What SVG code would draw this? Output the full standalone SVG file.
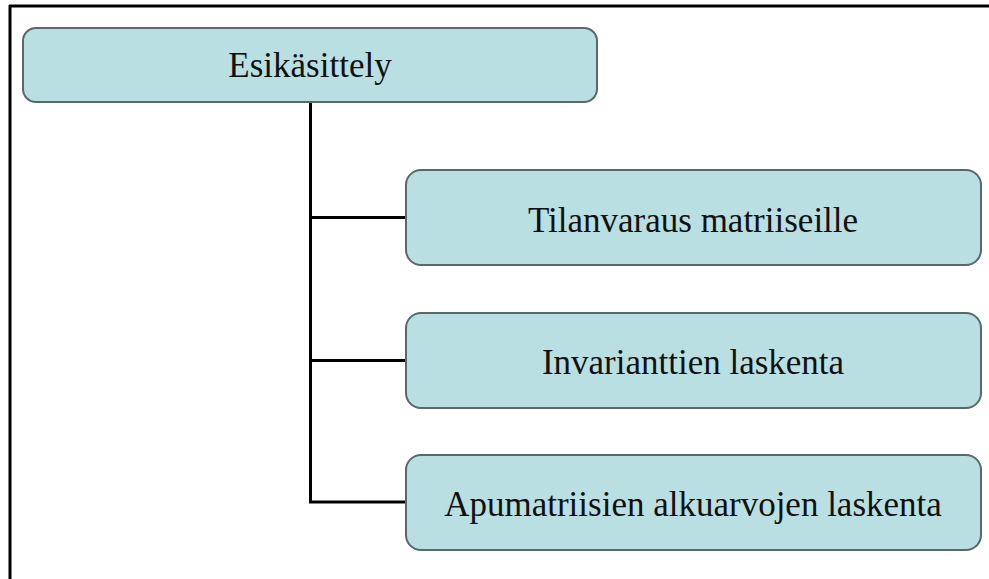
<svg xmlns="http://www.w3.org/2000/svg" width="989" height="579" viewBox="0 0 989 579">
<style>
.box{fill:#b9dfe3;stroke:#5b6868;stroke-width:2}
.lbl{font-family:"Liberation Serif","Times New Roman",serif;font-size:35px;fill:#111;text-anchor:middle}
.conn{fill:none;stroke:#000;stroke-width:3}
</style>
<rect width="989" height="579" fill="#fff"/>
<g id="frame">
<line x1="9" y1="6" x2="989" y2="6" stroke="#000" stroke-width="3"/>
<line x1="10" y1="5" x2="10" y2="579" stroke="#000" stroke-width="3"/>
</g>
<g id="connectors">
<polyline class="conn" points="310.5,102 310.5,502 406,502"/>
<line class="conn" x1="310.5" y1="217.5" x2="406" y2="217.5" stroke-width="2.5"/>
<line class="conn" x1="310.5" y1="360.5" x2="406" y2="360.5" stroke-width="2.5"/>
</g>
<g id="n-root">
<rect class="box" x="23" y="28" width="574" height="74" rx="13"/>
<text class="lbl" x="310" y="77">Esikäsittely</text>
</g>
<g id="n-1">
<rect class="box" x="406" y="170" width="575" height="95" rx="15"/>
<text class="lbl" x="693" y="232">Tilanvaraus matriiseille</text>
</g>
<g id="n-2">
<rect class="box" x="406" y="313" width="575" height="95" rx="15"/>
<text class="lbl" x="693" y="374">Invarianttien laskenta</text>
</g>
<g id="n-3">
<rect class="box" x="406" y="455" width="575" height="95" rx="15"/>
<text class="lbl" x="693" y="516">Apumatriisien alkuarvojen laskenta</text>
</g>
</svg>
